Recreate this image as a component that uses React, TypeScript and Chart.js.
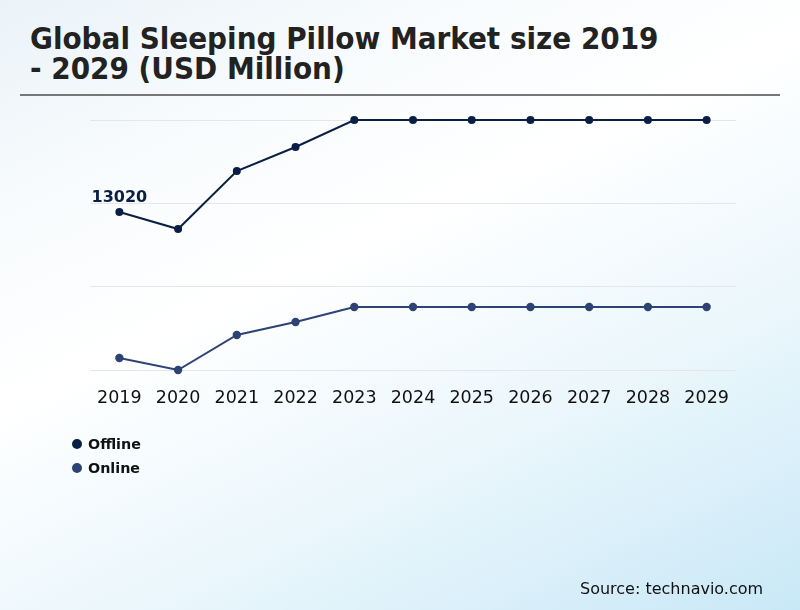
import React, { useEffect, useRef } from "react";
import Chart from "chart.js/auto";

const years = ["2019", "2020", "2021", "2022", "2023", "2024", "2025", "2026", "2027", "2028", "2029"];
const offline = [13020, 12572, 14104, 14737, 15450, 15450, 15450, 15450, 15450, 15450, 15450];
const online = [9167, 8850, 9774, 10117, 10513, 10513, 10513, 10513, 10513, 10513, 10513];
const seriesNames = ["Offline", "Online"];
const seriesColors = ["#0b1f45", "#2d4376"];
const labelIndex = 0;

const FONT = "'DejaVu Sans', sans-serif";

export default function App() {
  const canvasEl = useRef<HTMLCanvasElement>(null);

  useEffect(() => {
    document.body.style.margin = "0";
    if (!canvasEl.current) return;
    const ctx = canvasEl.current.getContext("2d");
    if (!ctx) return;

    const valueLabel = {
      id: "valueLabel",
      afterDatasetsDraw(chart: Chart) {
        const meta = chart.getDatasetMeta(0);
        const pt = meta.data[labelIndex];
        const c = chart.ctx;
        c.save();
        c.font = `bold 16px ${FONT}`;
        c.fillStyle = seriesColors[0];
        c.textAlign = "center";
        c.textBaseline = "bottom";
        c.fillText(String(offline[labelIndex]), pt.x, pt.y - 6);
        c.restore();
      },
    };

    const chart = new Chart(ctx, {
      type: "line",
      data: {
        labels: years,
        datasets: [
          {
            label: seriesNames[0],
            data: offline,
            borderColor: seriesColors[0],
            backgroundColor: seriesColors[0],
            borderWidth: 2,
            pointRadius: 3,
            clip: false,
          },
          {
            label: seriesNames[1],
            data: online,
            borderColor: seriesColors[1],
            backgroundColor: seriesColors[1],
            borderWidth: 2,
            pointRadius: 3.2,
            clip: false,
          },
        ],
      },
      options: {
        animation: false,
        responsive: false,
        layout: { padding: { top: 120, left: 90, right: 64, bottom: 191 } },
        plugins: {
          legend: { display: false },
          tooltip: { enabled: false },
        },
        scales: {
          x: {
            offset: true,
            grid: { display: false },
            border: { display: false },
            ticks: { color: "#111", font: { family: FONT, size: 17.5 }, padding: 10 },
          },
          y: {
            min: 8850,
            max: 15450,
            afterBuildTicks: (axis: any) => {
              axis.ticks = [8850, 11050, 13250, 15450].map((v) => ({ value: v }));
            },
            grid: { color: "#e3e6ea", drawTicks: false, lineWidth: 1 },
            border: { display: false },
            ticks: { display: false },
          },
        },
      },
      plugins: [valueLabel],
    });

    return () => {
      chart.destroy();
    };
  }, []);

  return (
    <div
      style={{
        position: "relative",
        width: 800,
        height: 610,
        overflow: "hidden",
        fontFamily: FONT,
        background:
          "linear-gradient(155deg, #eaf3f8 0%, #f8fbfd 22%, #ffffff 42%, #ebf7fc 68%, #c9e8f7 100%)",
      }}
    >
      <div
        style={{
          position: "absolute",
          left: 30,
          top: 23,
          fontFamily: "'DejaVu Sans Condensed', 'DejaVu Sans', sans-serif",
          fontSize: 31,
          fontWeight: "bold",
          lineHeight: "30px",
          color: "#222",
        }}
      >
        Global Sleeping Pillow Market size 2019
        <br />- 2029 (USD Million)
      </div>
      <div
        style={{
          position: "absolute",
          left: 20,
          top: 94,
          width: 760,
          height: 2,
          background: "#777",
        }}
      />
      <canvas ref={canvasEl} width={800} height={610} style={{ position: "absolute", left: 0, top: 0 }} />
      <div style={{ position: "absolute", left: 72, top: 432 }}>
        {seriesNames.map((n, i) => (
          <div key={n} style={{ display: "flex", alignItems: "center", height: 24 }}>
            <span
              style={{
                display: "inline-block",
                width: 10,
                height: 10,
                borderRadius: 5,
                background: seriesColors[i],
                marginRight: 6,
              }}
            />
            <span style={{ fontSize: 14.3, fontWeight: "bold", color: "#111" }}>{n}</span>
          </div>
        ))}
      </div>
      <div style={{ position: "absolute", left: 580, top: 579, fontSize: 16, color: "#111" }}>
        Source: technavio.com
      </div>
    </div>
  );
}
